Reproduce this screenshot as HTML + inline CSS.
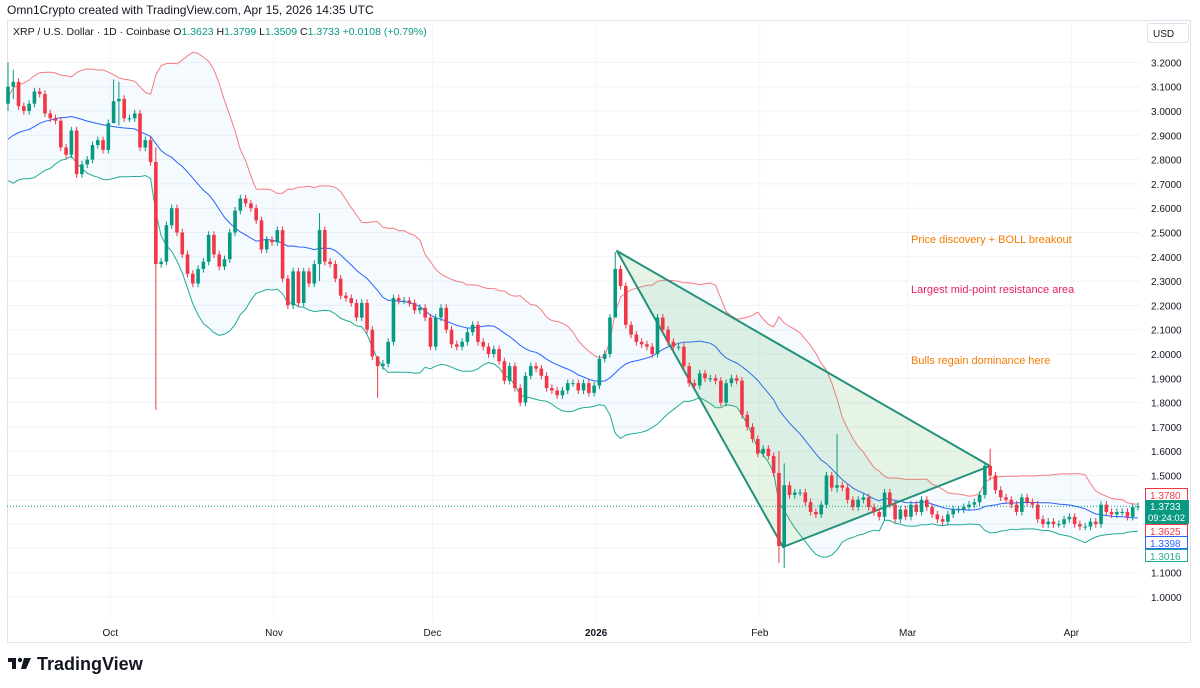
<!DOCTYPE html>
<html><head><meta charset="utf-8"><style>
html,body{margin:0;padding:0;background:#fff;}
svg{display:block;font-family:"Liberation Sans",sans-serif;}
</style></head><body>
<svg id="chart" width="1200" height="688" viewBox="0 0 1200 688">
<rect x="0" y="0" width="1200" height="688" fill="#fff"/>
<text x="7" y="14" font-size="12" fill="#131722">Omn1Crypto created with TradingView.com, Apr 15, 2026 14:35 UTC</text>
<rect x="7.5" y="20.5" width="1183" height="622" fill="none" stroke="#e0e3eb"/>
<g id="grid"></g>
<g id="band"></g>
<g id="tri"></g>
<g id="candles"></g>
<g id="axis"></g>
<g id="taxis"></g>
<text x="13" y="35" font-size="10.5" fill="#131722">XRP / U.S. Dollar · 1D · Coinbase <tspan fill="#131722">O</tspan><tspan fill="#089981">1.3623</tspan> <tspan fill="#131722">H</tspan><tspan fill="#089981">1.3799</tspan> <tspan fill="#131722">L</tspan><tspan fill="#089981">1.3509</tspan> <tspan fill="#131722">C</tspan><tspan fill="#089981">1.3733</tspan> <tspan fill="#089981">+0.0108 (+0.79%)</tspan></text>
<rect x="1147.5" y="23.5" width="41" height="19" rx="3" fill="#fff" stroke="#e0e3eb"/>
<text x="1153" y="37" font-size="10" fill="#131722">USD</text>
<text x="911" y="243" font-size="11" fill="#f57c00">Price discovery + BOLL breakout</text>
<text x="911" y="293" font-size="11" fill="#e91e63">Largest mid-point resistance area</text>
<text x="911" y="364" font-size="11" fill="#f57c00">Bulls regain dominance here</text>
<g>
<rect x="8" y="658" width="8" height="4" fill="#131722"/><rect x="12" y="658" width="4" height="11" fill="#131722"/>
<circle cx="20" cy="660" r="2.2" fill="#131722"/><polygon points="24,658 31,658 26,669 21,669" fill="#131722"/>
<text x="37" y="670" font-size="18" font-weight="bold" fill="#131722">TradingView</text>
</g>
</svg>
<script>
const preCloses=[2.82,2.78,2.86,2.92,2.84,2.80,2.83,2.88,2.82,2.78,2.80,2.84,2.86,2.90,2.94,2.97,2.98,2.93,3.04];
const closes=[3.10,3.12,3.02,3.00,3.03,3.08,3.07,2.99,2.97,2.96,
2.85,2.82,2.92,2.74,2.78,2.80,2.86,2.88,2.84,2.95,
3.04,3.05,2.97,2.97,2.99,2.85,2.88,2.79,2.37,2.38,
2.53,2.60,2.50,2.41,2.33,2.29,2.35,2.38,2.49,2.41,
2.36,2.39,2.50,2.59,2.64,2.62,2.60,2.55,2.43,2.47,
2.46,2.51,2.31,2.20,2.34,2.21,2.34,2.29,2.37,2.51,
2.38,2.37,2.31,2.24,2.23,2.21,2.15,2.21,2.10,1.99,
1.95,1.96,
2.05,2.23,2.22,2.22,2.21,2.18,2.19,2.15,2.03,2.15,
2.19,2.10,2.04,2.03,2.05,2.09,2.12,2.05,2.03,2.00,
2.02,1.97,1.89,1.95,1.86,1.80,1.91,1.95,1.94,1.91,
1.86,1.85,1.83,1.85,1.88,1.88,1.85,1.88,1.84,1.87,
1.98,2.00,2.15,2.35,2.28,2.12,2.08,2.05,2.04,2.03,
2.00,2.15,2.10,2.05,2.03,2.03,1.95,1.88,1.87,1.92,
1.90,1.90,1.89,1.80,1.88,1.90,1.89,1.75,1.70,1.65,
1.59,1.61,1.58,1.51,1.21,1.46,1.42,1.43,1.43,1.39,
1.35,1.34,1.38,1.50,1.45,1.46,1.45,1.40,1.37,1.40,
1.41,1.37,1.35,1.33,1.43,1.38,1.32,1.36,1.33,1.38,
1.35,1.40,1.37,1.34,1.32,1.31,1.34,1.36,1.36,1.37,
1.38,1.39,1.42,1.54,1.50,1.44,1.41,1.40,1.38,1.35,
1.41,1.39,1.38,1.32,1.30,1.31,1.30,1.30,1.32,1.33,
1.30,1.29,1.29,1.31,1.30,1.38,1.35,1.34,1.35,1.35,
1.33,1.37,1.3733];
const firstOpen=3.03;
const wickIdx=[0,1,20,21,28,59,70,115,146,147,157,186];
const wickHigh=[3.20,3.17,3.13,3.12,2.85,2.58,1.99,2.42,1.60,1.55,1.67,1.61];
const wickLow=[3.00,3.05,2.95,2.94,1.77,2.30,1.82,2.30,1.14,1.12,1.43,1.48];
const priceTicks=[3.2,3.1,3.0,2.9,2.8,2.7,2.6,2.5,2.4,2.3,2.2,2.1,2.0,1.9,1.8,1.7,1.6,1.5,1.4,1.3,1.2,1.1,1.0];
const monthLabels=["Oct","Nov","Dec","2026","Feb","Mar","Apr"];
const monthIdx=[19,50,80,111,142,170,201];

const NS="http://www.w3.org/2000/svg";
const X0=8,X1=1138,PL=7,PR=1140,PT=45,PB=620;
const step=(X1-X0)/(closes.length-1);
const xs=i=>X0+i*step;
const ys=p=>597-(p-1)*243;
function mk(tag,attrs,parent){const e=document.createElementNS(NS,tag);for(const k in attrs)e.setAttribute(k,attrs[k]);parent.appendChild(e);return e;}
const grid=document.getElementById('grid'),band=document.getElementById('band'),cg=document.getElementById('candles'),ax=document.getElementById('axis'),tx=document.getElementById('taxis'),tri=document.getElementById('tri');
priceTicks.forEach(p=>{
 const l=mk('line',{x1:PL,x2:PR,y1:ys(p),y2:ys(p),stroke:'#f0f3fa'},grid);
 
 
 const t=mk('text',{x:1151,y:ys(p)+4,'font-size':10,fill:'#131722'},ax);
 t.textContent=p.toFixed(4);
 
 
});
monthLabels.forEach((m,k)=>{
 const x=xs(monthIdx[k])+2;
 const l=mk('line',{x1:x,x2:x,y1:21,y2:PB,stroke:'#f3f5fa'},grid);
 
 
 const t=mk('text',{x:x,y:636,'font-size':10,fill:'#131722','text-anchor':'middle','font-weight':m==='2026'?'bold':'normal'},tx);
 t.textContent=m;
 
 
});
const all=preCloses.concat(closes),off=preCloses.length;
const up=[],mid=[],lo=[];
for(let i=0;i<closes.length;i++){
 const s=all.slice(i+off-19,i+off+1);const m=s.reduce((a,b)=>a+b,0)/20;
 const sd=Math.sqrt(s.reduce((a,b)=>a+(b-m)*(b-m),0)/20);
 up.push(m+2*sd);mid.push(m);lo.push(m-2*sd);
}
const pts=a=>a.map((v,i)=>xs(i).toFixed(1)+','+ys(v).toFixed(1));
const fill=mk('polygon',{points:pts(up).concat(pts(lo).reverse()).join(' '),fill:'rgba(33,150,243,0.05)'},band);


const bu=mk('polyline',{points:pts(up).join(' '),fill:'none',stroke:'#f77c80','stroke-width':1},band);


const bm=mk('polyline',{points:pts(mid).join(' '),fill:'none',stroke:'#2962ff','stroke-width':1},band);


const bl=mk('polyline',{points:pts(lo).join(' '),fill:'none',stroke:'#22ab94','stroke-width':1},band);


const tp=mk('polygon',{points:'617,251 783,547 990,466',fill:'rgba(76,175,80,0.14)',stroke:'#22917a','stroke-width':2,'stroke-linejoin':'round'},tri);


for(let i=0;i<closes.length;i++){
 const o=i===0?firstOpen:closes[i-1],c=closes[i];
 const k=wickIdx.indexOf(i);
 const h=k>=0?wickHigh[k]:Math.max(o,c)+0.015,l=k>=0?wickLow[k]:Math.min(o,c)-0.015;
 const col=c>=o?'#089981':'#f23645';
 const x=xs(i);
 const w=mk('line',{x1:x,x2:x,y1:ys(h),y2:ys(l),stroke:col,'stroke-width':1},cg);
 
 
 const top=ys(Math.max(o,c)),bh=Math.max(1,ys(Math.min(o,c))-top);
 const b=mk('rect',{x:x-1.8,y:top,width:3.6,height:bh,fill:col},cg);
 
 
}
const last=closes[closes.length-1];
const cp=mk('line',{x1:PL,x2:PR,y1:ys(last),y2:ys(last),stroke:'#089981','stroke-dasharray':'1,2'},cg);


const badges=[[1.378,'1.3780','#f23645','#fff'],[1.3625,'1.3625','#f23645','#fff'],[1.3398,'1.3398','#2962ff','#fff'],[1.3016,'1.3016','#22ab94','#fff']];
const by=[495,531,543,556];
badges.forEach((b,k)=>{
 const r=mk('rect',{x:1145.5,y:by[k]-6.5,width:42,height:12,fill:b[3],stroke:b[2]},ax);
 
 
 const t=mk('text',{x:1150,y:by[k]+4,'font-size':10,fill:b[2]},ax);
 t.textContent=b[1];
 
 
});
const cr=mk('rect',{x:1145,y:500,width:44,height:24,fill:'#089981',rx:1},ax);


const ct=mk('text',{x:1150,y:510,'font-size':10,fill:'#fff'},ax);
ct.textContent=last.toFixed(4);


const cd=mk('text',{x:1148,y:521,'font-size':9.5,fill:'#fff'},ax);
cd.textContent='09:24:02';


</script>
</body></html>
